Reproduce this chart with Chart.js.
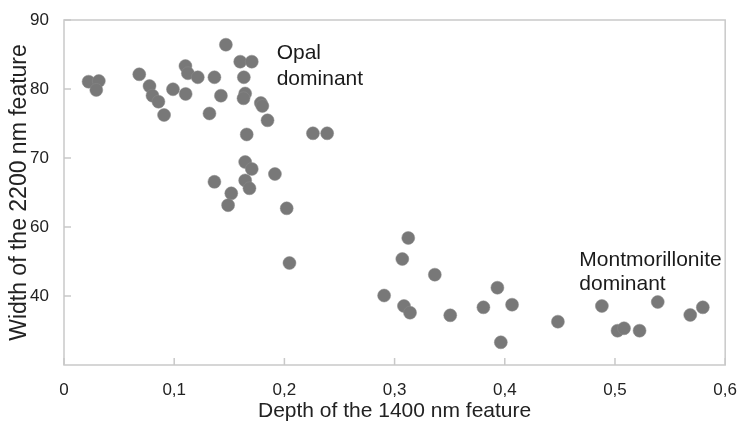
<!DOCTYPE html>
<html>
<head>
<meta charset="utf-8">
<script src="https://cdn.jsdelivr.net/npm/chart.js@4.4.1/dist/chart.umd.min.js"></script>
<style>
  body { margin: 0; background: #fff; }
  #wrap { width: 744px; height: 425px; }
</style>
</head>
<body>
<div id="wrap"><canvas id="grafico"></canvas></div>
<script>
// datos (y en la escala de posicion del eje)
const profundidad = [0.0223,0.0316,0.0293,0.0683,0.0776,0.0803,0.0857,0.0908,0.0989,0.1102,
  0.1124,0.1104,0.1214,0.1365,0.1424,0.1320,0.1469,0.1599,0.1704,0.1632,
  0.1644,0.1629,0.1786,0.1800,0.1847,0.1658,0.2259,0.2388,0.1644,0.1704,
  0.1914,0.1365,0.1644,0.1683,0.1518,0.1489,0.2021,0.2046,0.2905,0.3124,
  0.3070,0.3365,0.3085,0.3140,0.3505,0.3933,0.3806,0.4066,0.3964,0.4482,
  0.4881,0.5023,0.5082,0.5223,0.5388,0.5683,0.5797];
const ancho = [81.06,81.16,79.86,82.13,80.43,79.03,78.16,76.23,79.96,83.33,
  82.28,79.28,81.70,81.70,79.03,76.45,86.42,83.96,83.96,81.70,
  79.35,78.65,77.97,77.54,75.46,73.41,73.58,73.58,69.42,68.41,
  67.68,66.55,66.75,65.61,64.88,63.16,62.71,54.78,50.07,58.41,
  55.36,53.09,48.55,47.58,47.20,51.20,48.36,48.74,43.29,46.28,
  48.55,44.97,45.32,44.97,49.13,47.25,48.36];

const xTicks = [0,0.1,0.2,0.3,0.4,0.5,0.6];
const xTickLabels = ['0','0,1','0,2','0,3','0,4','0,5','0,6'];
const yTicks = [90,80,70,60,50];
const yTickLabels = ['90','80','70','60','40'];

const notas = [
  { texto: 'Opal', x: 0.193, y: 84.35 },
  { texto: 'dominant', x: 0.193, y: 80.58 },
  { texto: 'Montmorillonite', x: 0.4676, y: 54.35 },
  { texto: 'dominant', x: 0.4676, y: 50.87 }
];

const puntos = profundidad.map((v, i) => ({ x: v, y: ancho[i] }));

// marco, marcas interiores y textos
const marco = {
  id: 'marco',
  afterDraw(chart) {
    const ctx = chart.ctx;
    const a = chart.chartArea;
    const sx = chart.scales.x, sy = chart.scales.y;
    ctx.save();
    ctx.strokeStyle = '#c9c9c9';
    ctx.lineWidth = 1.5;
    ctx.strokeRect(a.left, a.top, a.right - a.left, a.bottom - a.top);
    ctx.beginPath();
    yTicks.forEach(v => {
      const p = sy.getPixelForValue(v);
      ctx.moveTo(a.left, p); ctx.lineTo(a.left + 7, p);
    });
    xTicks.forEach(v => {
      const p = sx.getPixelForValue(v);
      ctx.moveTo(p, a.bottom); ctx.lineTo(p, a.bottom - 7);
    });
    ctx.stroke();
    ctx.fillStyle = '#1a1a1a';
    ctx.font = '21px "Liberation Sans", Arial, sans-serif';
    ctx.textBaseline = 'alphabetic';
    notas.forEach(n => {
      ctx.fillText(n.texto, sx.getPixelForValue(n.x), sy.getPixelForValue(n.y));
    });
    ctx.restore();
  }
};

new Chart(document.getElementById('grafico'), {
  type: 'scatter',
  data: {
    datasets: [{
      data: puntos,
      backgroundColor: '#787878',
      borderColor: '#8a8a8a',
      borderWidth: 0.5,
      pointRadius: 6.5,
      pointHoverRadius: 6.5
    }]
  },
  options: {
    responsive: true,
    maintainAspectRatio: false,
    animation: false,
    layout: { padding: { left: 2, right: 14, top: 20, bottom: 0 } },
    plugins: { legend: { display: false }, tooltip: { enabled: false } },
    scales: {
      x: {
        type: 'linear',
        min: 0, max: 0.6,
        afterBuildTicks: s => { s.ticks = xTicks.map(v => ({ value: v })); },
        afterFit: s => { s.height = 60; },
        grid: { display: false },
        border: { display: false },
        ticks: {
          color: '#222',
          padding: 7,
          font: { family: '"Liberation Sans", Arial, sans-serif', size: 17 },
          callback: (v, i) => xTickLabels[i]
        },
        title: {
          display: true,
          text: 'Depth of the 1400 nm feature',
          color: '#222',
          padding: { top: 0, bottom: 1 },
          font: { family: '"Liberation Sans", Arial, sans-serif', size: 21 }
        }
      },
      y: {
        type: 'linear',
        min: 40, max: 90,
        afterBuildTicks: s => { s.ticks = yTicks.map(v => ({ value: v })); },
        afterFit: s => { s.width = 62; },
        grid: { display: false },
        border: { display: false },
        ticks: {
          color: '#222',
          padding: 7,
          font: { family: '"Liberation Sans", Arial, sans-serif', size: 17 },
          callback: (v, i) => yTickLabels[i]
        },
        title: {
          display: true,
          text: 'Width of the 2200 nm feature',
          color: '#222',
          padding: { top: 4, bottom: 0 },
          font: { family: '"Liberation Sans", Arial, sans-serif', size: 23 }
        }
      }
    }
  },
  plugins: [marco]
});
</script>
</body>
</html>
